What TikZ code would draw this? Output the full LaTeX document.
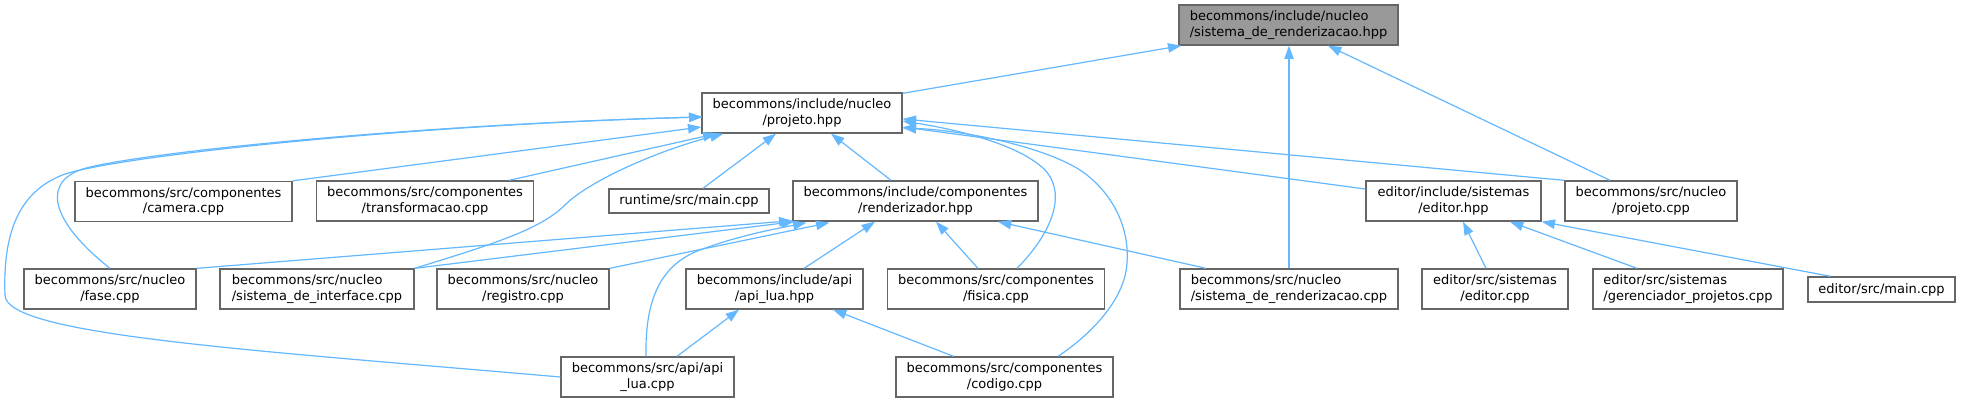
\documentclass[tikz,border=0pt]{standalone}
\usepackage{fontspec}
\setmainfont{DejaVu Sans}
\usetikzlibrary{arrows.meta,calc}
\definecolor{edgeblue}{HTML}{63B8FF}
\definecolor{nodeborder}{HTML}{666666}
\definecolor{mainfill}{HTML}{999999}
\begin{document}
\begin{tikzpicture}[x=0.75pt,y=-0.75pt,
  box/.style={draw=nodeborder, line width=1pt, fill=white, rectangle, inner sep=0pt,
    minimum height=30pt, align=center, font=\fontsize{9.75}{11.6}\selectfont},
  leftbox/.style={box, align=left},
  dep/.style={draw=edgeblue, line width=0.9pt, -{Triangle[length=10pt,width=7pt]}},
]
\useasboundingbox (0,0) rectangle (1961,403);
\fill[white] (0,0) rectangle (1961,403);

% nodes
\node[leftbox, fill=mainfill, minimum width=164.25pt] (main) at (1288.5,25) {becommons/include/nucleo\\/sistema\_de\_renderizacao.hpp};
\node[box, minimum width=150pt] (projH) at (802,113) {becommons/include/nucleo\\/projeto.hpp};
\node[box, minimum width=162.75pt] (camera) at (183.5,201.5) {becommons/src/componentes\\/camera.cpp};
\node[box, minimum width=162.75pt] (transf) at (425,201) {becommons/src/componentes\\/transformacao.cpp};
\node[box, minimum width=120pt, minimum height=18pt] (runtime) at (689,201) {runtime/src/main.cpp};
\node[box, minimum width=183.75pt] (rendH) at (915.5,201) {becommons/include/componentes\\/renderizador.hpp};
\node[box, minimum width=131.25pt] (editorH) at (1453.5,201) {editor/include/sistemas\\/editor.hpp};
\node[box, minimum width=129pt] (projCpp) at (1651,201) {becommons/src/nucleo\\/projeto.cpp};
\node[box, minimum width=129pt] (fase) at (110,289) {becommons/src/nucleo\\/fase.cpp};
\node[leftbox, minimum width=145.5pt] (interface) at (317,289) {becommons/src/nucleo\\/sistema\_de\_interface.cpp};
\node[box, minimum width=129pt] (registro) at (523,289) {becommons/src/nucleo\\/registro.cpp};
\node[box, minimum width=132.75pt] (apiH) at (774.5,289) {becommons/include/api\\/api\_lua.hpp};
\node[box, minimum width=163.1pt] (fisica) at (996,289) {becommons/src/componentes\\/fisica.cpp};
\node[leftbox, minimum width=163.5pt] (sistRenCpp) at (1289,289) {becommons/src/nucleo\\/sistema\_de\_renderizacao.cpp};
\node[box, minimum width=109.5pt] (editorCpp) at (1495,289) {editor/src/sistemas\\/editor.cpp};
\node[leftbox, minimum width=142.5pt] (gerenc) at (1688,289) {editor/src/sistemas\\/gerenciador\_projetos.cpp};
\node[box, minimum width=110.25pt, minimum height=18.75pt] (editorMain) at (1881.5,289.5) {editor/src/main.cpp};
\node[box, minimum width=129.75pt] (apiCpp) at (647.5,377) {becommons/src/api/api\\\_lua.cpp};
\node[box, minimum width=162.75pt] (codigo) at (1004.5,377) {becommons/src/componentes\\/codigo.cpp};

% edges into main header
\draw[dep] ($(projH.north east)+(0,1)$) -- ($(main.south west)+(3,0)$);
\draw[dep] (sistRenCpp.north) -- ($(main.south)+(0.5,0)$);
\draw[dep] ($(projCpp.north)+(-41,0)$) -- ($(main.south)+(39.5,0)$);

% edges into projeto.hpp
\draw[dep] (camera.north east) -- ($(projH.west)+(0,14)$);
\draw[dep] ($(transf.north)+(84,0)$) -- ($(projH.south west)+(15,0)$);
\draw[dep] (fase.north) .. controls (55,225) and (40,185) .. (80,170)
  .. controls (120,155) and (400,125) .. ($(projH.west)+(1,4)$);
\draw[dep] (apiCpp.west) .. controls (250,350) and (5,335) .. (5,295)
  .. controls (3,240) and (15,195) .. (60,176)
  .. controls (100,158) and (400,125) .. ($(projH.west)+(1,4)$);
\draw[dep] (interface.north east) .. controls (490,245) and (540,230) .. (565,205)
  .. controls (590,180) and (660,150) .. ($(projH.south west)+(22,0)$);
\draw[dep] ($(runtime.north)+(14,0)$) -- ($(projH.south)+(-26,0)$);
\draw[dep] ($(rendH.north)+(-24.5,0)$) -- ($(projH.south)+(29,0)$);
\draw[dep] ($(fisica.north)+(21,0)$) .. controls (1050,235) and (1068,195) .. (1045,170)
  .. controls (1020,145) and (960,130) .. ($(projH.east)+(0,8)$);
\draw[dep] ($(codigo.north)+(53.5,0)$) .. controls (1090,335) and (1125,300) .. (1127,263)
  .. controls (1130,225) and (1110,190) .. (1080,170)
  .. controls (1040,145) and (960,130) .. ($(projH.east)+(0,15)$);
\draw[dep] ($(editorH.west)+(0,-12)$) -- ($(projH.east)+(0,14)$);
\draw[dep] (projCpp.north west) -- ($(projH.east)+(0,6)$);

% edges into renderizador.hpp
\draw[dep] (fase.north east) -- ($(rendH.south west)+(0,-1)$);
\draw[dep] (interface.north east) -- ($(rendH.south west)+(2,0)$);
\draw[dep] (registro.north east) -- ($(rendH.south west)+(37,1)$);
\draw[dep] ($(apiCpp.north)+(-1.5,0)$) .. controls (645,300) and (660,265) .. (700,250)
  .. controls (740,235) and (780,228) .. ($(rendH.south west)+(14,1)$);
\draw[dep] ($(apiH.north)+(29.5,0)$) -- ($(rendH.south)+(-40.5,0)$);
\draw[dep] ($(fisica.north)+(-18,0)$) -- ($(rendH.south)+(20.5,0)$);
\draw[dep] ($(sistRenCpp.north)+(-83,0)$) -- ($(rendH.south)+(82.5,0)$);

% edges into api_lua.hpp
\draw[dep] ($(apiCpp.north)+(29.5,0)$) -- ($(apiH.south)+(-35.5,0)$);
\draw[dep] ($(codigo.north)+(-51,0)$) -- ($(apiH.south)+(58.5,0)$);

% edges into editor.hpp
\draw[dep] ($(editorCpp.north)+(-9,0)$) -- ($(editorH.south)+(9.5,0)$);
\draw[dep] ($(gerenc.north)+(-51,0)$) -- ($(editorH.south)+(56.5,0)$);
\draw[dep] ($(editorMain.north)+(-51,0)$) -- (editorH.south east);
\end{tikzpicture}
\end{document}
